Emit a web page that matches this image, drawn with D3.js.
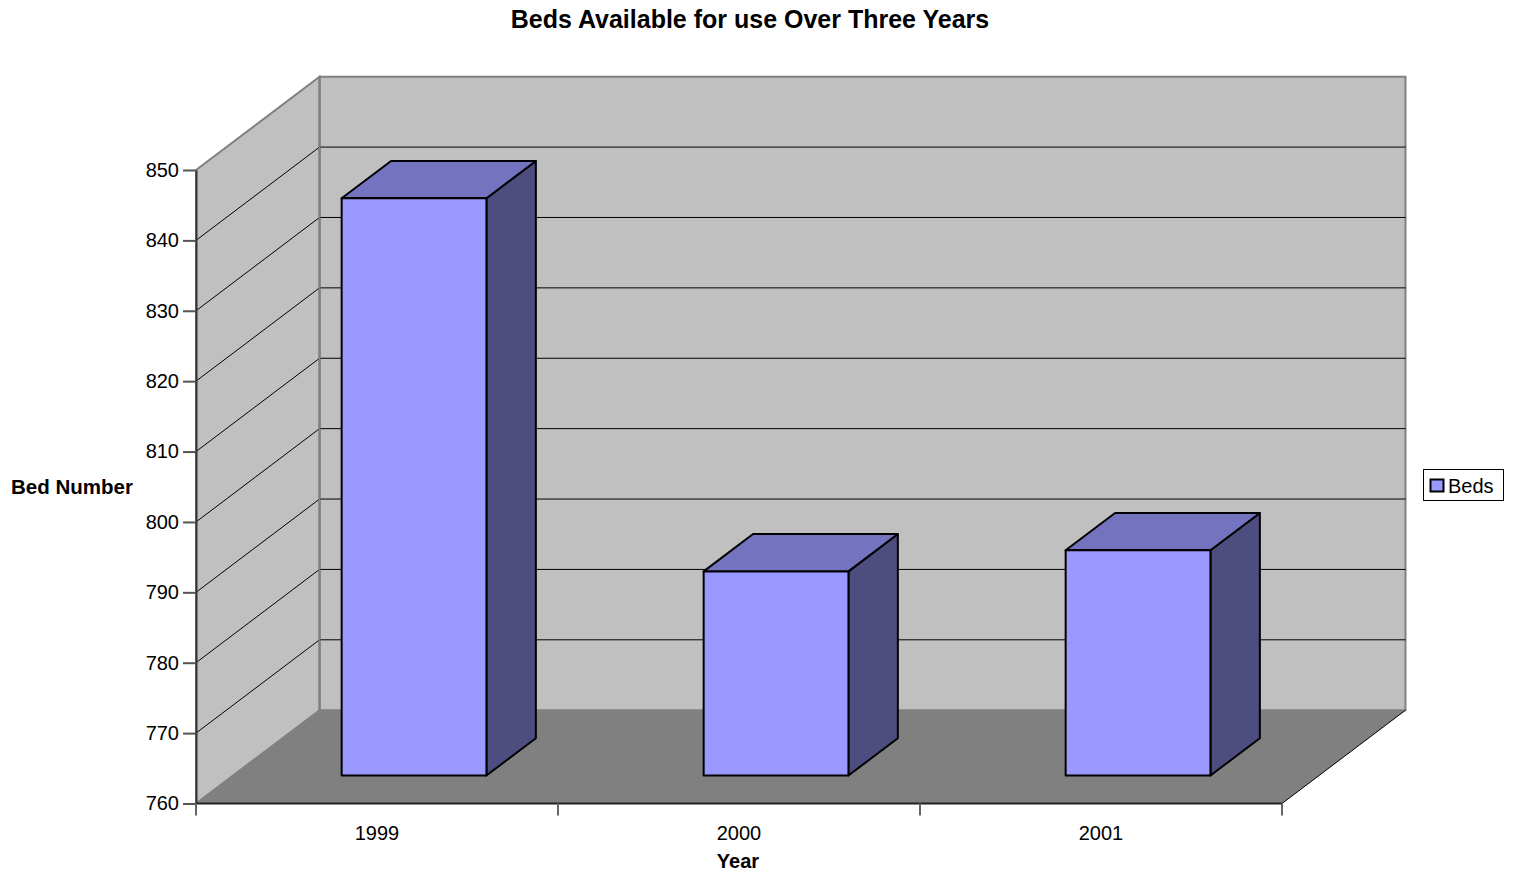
<!DOCTYPE html>
<html>
<head>
<meta charset="utf-8">
<script src="https://cdn.jsdelivr.net/npm/d3@7"></script>
<style>
  html, body { margin: 0; padding: 0; background: #fff; }
  svg { display: block; font-family: "Liberation Sans", Arial, sans-serif; }
</style>
</head>
<body>
<svg id="chart" width="1518" height="874"></svg>
<script>
// ---- data ----
const categories = ["1999", "2000", "2001"];
const bedValues = [842, 789, 792];
const yTicks = [760, 770, 780, 790, 800, 810, 820, 830, 840, 850];
const seriesName = "Beds";
const chartTitle = "Beds Available for use Over Three Years";
const xTitle = "Year";
const yTitle = "Bed Number";

// ---- layout ----
const svg = d3.select("#chart");
const X0 = 196, X1 = 1282;          // front plane x extent
const DX = 123.5, DY = 93.3;        // depth offset (back plane)
const F0 = 0.3, F1 = 0.7;           // bar depth range (fraction)

const y = d3.scaleLinear().domain([760, 850]).range([803.5, 170]);
const xBand = d3.scaleBand().domain(categories).range([X0, X1]).paddingInner(0.6).paddingOuter(0.3);
const xCat = d3.scaleBand().domain(categories).range([X0, X1]).padding(0);

const proj = (px, py, f) => [px + f * DX, py - f * DY];
const poly = pts => "M" + pts.map(p => p.join(",")).join("L") + "Z";

const yMin = y.domain()[0], yMax = y.domain()[1];

// back wall
svg.append("path")
  .attr("d", poly([proj(X0, y(yMax), 1), proj(X1, y(yMax), 1), proj(X1, y(yMin), 1), proj(X0, y(yMin), 1)]))
  .attr("fill", "#c0c0c0").attr("stroke", "#808080").attr("stroke-width", 2);
// side wall
svg.append("path")
  .attr("d", poly([[X0, y(yMax)], proj(X0, y(yMax), 1), proj(X0, y(yMin), 1), [X0, y(yMin)]]))
  .attr("fill", "#c0c0c0").attr("stroke", "#808080").attr("stroke-width", 2);
// floor
svg.append("path")
  .attr("d", poly([[X0, y(yMin)], [X1, y(yMin)], proj(X1, y(yMin), 1), proj(X0, y(yMin), 1)]))
  .attr("fill", "#808080").attr("stroke", "none");
svg.append("line")
  .attr("x1", X1).attr("y1", y(yMin))
  .attr("x2", proj(X1, y(yMin), 1)[0]).attr("y2", proj(X1, y(yMin), 1)[1])
  .attr("stroke", "#000").attr("stroke-width", 1);

// gridlines (side wall + back wall)
const gridVals = yTicks.filter(v => v > yMin && v < yMax);
svg.append("g").selectAll("path").data(gridVals).join("path")
  .attr("d", v => {
    const a = [X0, y(v)], b = proj(X0, y(v), 1), c = proj(X1, y(v), 1);
    return "M" + a.join(",") + "L" + b.join(",") + "L" + c.join(",");
  })
  .attr("fill", "none").attr("stroke", "#000").attr("stroke-width", 1);
// re-stroke back wall vertical border over gridlines
svg.append("line")
  .attr("x1", proj(X0, 0, 1)[0]).attr("x2", proj(X0, 0, 1)[0])
  .attr("y1", proj(X0, y(yMax), 1)[1]).attr("y2", proj(X0, y(yMin), 1)[1])
  .attr("stroke", "#808080").attr("stroke-width", 2);

// bars
const barColors = { front: "#9999ff", top: "#7373bf", side: "#4d4d80" };
const bars = svg.append("g").selectAll("g").data(categories.map((c, i) => ({ c, v: bedValues[i] }))).join("g");
bars.each(function (d) {
  const g = d3.select(this);
  const xl = xBand(d.c), xr = xBand(d.c) + xBand.bandwidth();
  const yt = y(d.v), yb = y(yMin);
  const fl = proj(xl, yt, F0), fr = proj(xr, yt, F0);
  const bl = proj(xl, yt, F1), br = proj(xr, yt, F1);
  const flb = proj(xl, yb, F0), frb = proj(xr, yb, F0), brb = proj(xr, yb, F1);
  const common = sel => sel.attr("stroke", "#000").attr("stroke-width", 2).attr("stroke-linejoin", "round");
  common(g.append("path").attr("d", poly([fr, br, brb, frb])).attr("fill", barColors.side));
  common(g.append("path").attr("d", poly([fl, fr, br, bl])).attr("fill", barColors.top));
  common(g.append("path").attr("d", poly([fl, fr, frb, flb])).attr("fill", barColors.front));
});

// y axis
const yAxis = d3.axisLeft(y).tickValues(yTicks).tickSize(13).tickSizeOuter(0).tickPadding(4).tickFormat(d3.format("d"));
const yg = svg.append("g").attr("transform", `translate(${X0},0)`).call(yAxis);
yg.select(".domain").attr("stroke", "#333").attr("stroke-width", 2);
yg.selectAll(".tick line").attr("stroke", "#555").attr("stroke-width", 2);
yg.selectAll(".tick text").attr("font-size", 20).attr("fill", "#000")
  .attr("font-family", "Liberation Sans, Arial, sans-serif");

// x axis line + boundary ticks
svg.append("line").attr("x1", X0).attr("x2", X1).attr("y1", y(yMin)).attr("y2", y(yMin))
  .attr("stroke", "#222").attr("stroke-width", 2);
const bounds = categories.map(c => xCat(c)).concat([xCat(categories[categories.length - 1]) + xCat.step()]);
svg.append("g").selectAll("line").data(bounds).join("line")
  .attr("x1", d => d).attr("x2", d => d).attr("y1", y(yMin)).attr("y2", y(yMin) + 12)
  .attr("stroke", "#666").attr("stroke-width", 2);
svg.append("g").selectAll("text").data(categories).join("text")
  .attr("x", d => xCat(d) + xCat.step() / 2).attr("y", 840)
  .attr("text-anchor", "middle").attr("font-size", 20).attr("fill", "#000").text(d => d);

// axis titles
svg.append("text").attr("x", 738).attr("y", 868).attr("text-anchor", "middle")
  .attr("font-size", 20).attr("font-weight", "bold").text(xTitle);
svg.append("text").attr("x", 72).attr("y", 494).attr("text-anchor", "middle")
  .attr("font-size", 20.5).attr("font-weight", "bold").text(yTitle);

// title
svg.append("text").attr("x", 750).attr("y", 28).attr("text-anchor", "middle")
  .attr("font-size", 25).attr("font-weight", "bold").text(chartTitle);

// legend
const lg = svg.append("g");
lg.append("rect").attr("x", 1423.5).attr("y", 469.5).attr("width", 80).attr("height", 31)
  .attr("fill", "#fff").attr("stroke", "#000").attr("stroke-width", 1);
lg.append("rect").attr("x", 1430.5).attr("y", 479.5).attr("width", 13).attr("height", 12)
  .attr("fill", barColors.front).attr("stroke", "#000").attr("stroke-width", 2);
lg.append("text").attr("x", 1448).attr("y", 493).attr("font-size", 20).attr("fill", "#000").text(seriesName);
</script>
</body>
</html>
